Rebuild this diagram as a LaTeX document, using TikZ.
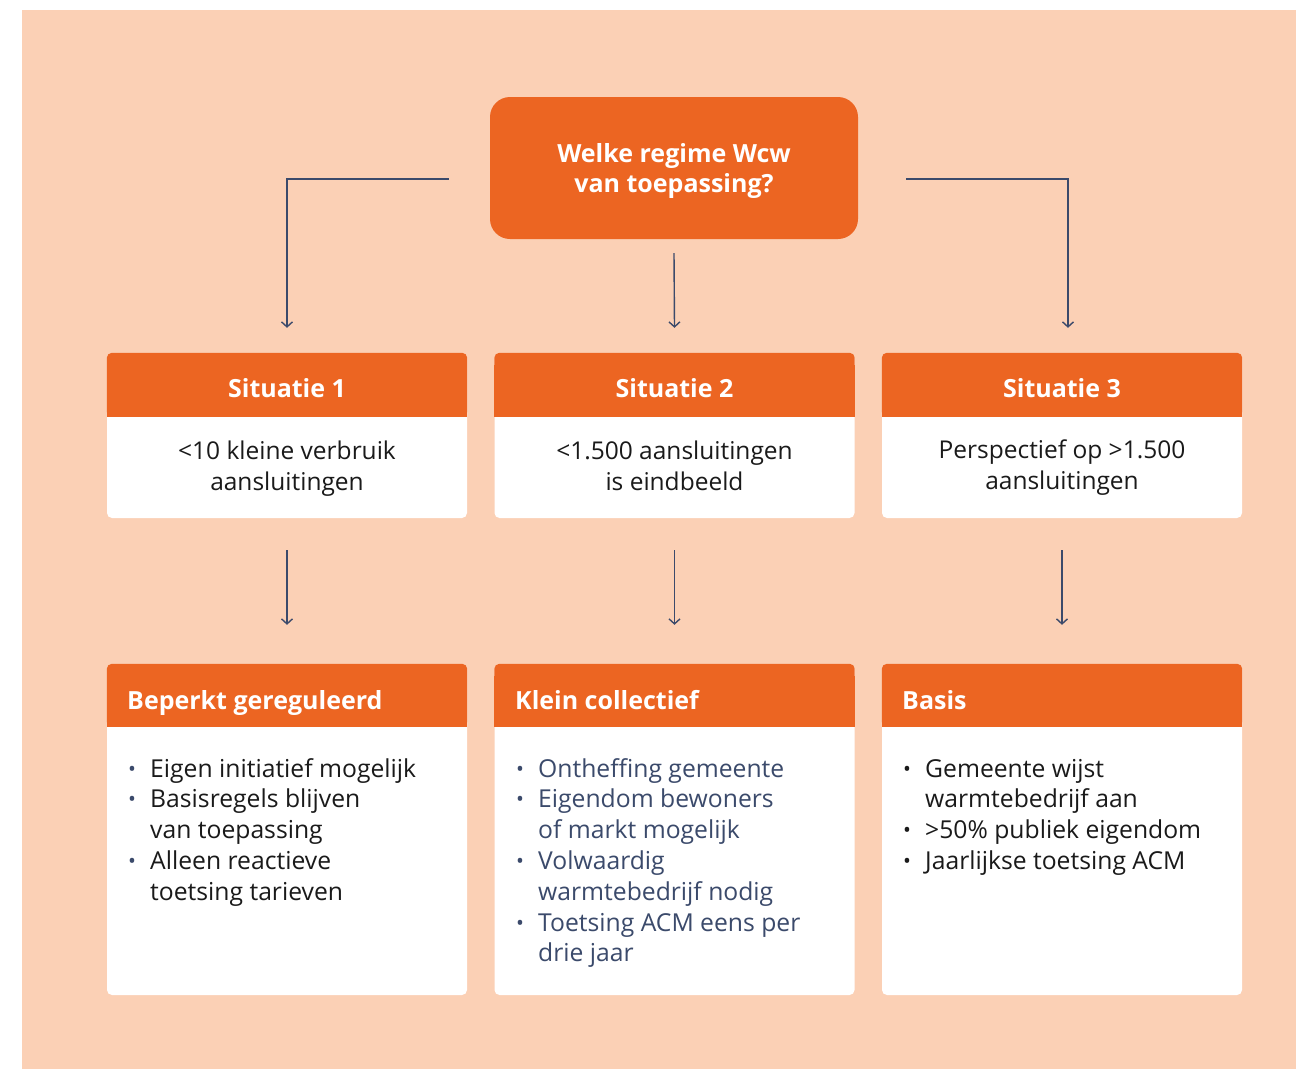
\documentclass[tikz,border=0pt]{standalone}
\usepackage{fontspec}
\setmainfont{Open Sans}
\usetikzlibrary{arrows.meta}
\definecolor{bg}{HTML}{FBD0B5}
\definecolor{org}{HTML}{EC6522}
\definecolor{navy}{HTML}{3B4A6B}
\definecolor{ink}{HTML}{1A1A1A}
\newcommand{\bul}[1]{\makebox[23pt][l]{\hspace{1pt}\color{#1}\raisebox{1pt}{\scalebox{0.85}{•}}}}
\tikzset{
  conn/.style={draw=navy, line width=1.4pt, -{Straight Barb[length=5pt,width=11pt,line width=1.4pt]}},
  topbox/.style={fill=org, rounded corners=20pt, minimum width=368pt, minimum height=142pt, inner sep=0pt},
  toptxt/.style={text=white, font=\bfseries\fontsize{25}{30.5}\selectfont, inner sep=0pt, anchor=base},
  sbox/.style={fill=white, rounded corners=5pt, minimum width=360pt, minimum height=165pt, inner sep=0pt},
  bbox/.style={fill=white, rounded corners=5pt, minimum width=360pt, minimum height=331pt, inner sep=0pt},
  headtxt/.style={text=white, font=\bfseries\fontsize{25}{30}\selectfont, inner sep=0pt},
  bodytxt/.style={text=ink, font=\fontsize{24.5}{31}\selectfont, inner sep=0pt, anchor=base},
  listtxt/.style={font=\fontsize{24.7}{30.8}\selectfont, inner sep=0pt, anchor=base west}
}
\begin{document}
\begin{tikzpicture}[x=1pt,y=-1pt]
\useasboundingbox (0,0) rectangle (1296,1069);
\fill[bg] (22,10) rectangle (1296,1069);

% top question
\node[topbox] (q) at (674,168) {};
\node[toptxt] (qt) at (674,162) {\begin{tabular}[t]{@{}c@{}}Welke regime Wcw\\van toepassing?\end{tabular}};

% situation boxes
\foreach \n/\x in {1/287,2/674.5,3/1062}{
  \node[sbox] (s\n) at (\x,435.5) {};
  \fill[org, rounded corners=5pt] (s\n.north west) rectangle ([yshift=-64pt]s\n.north east);
  \fill[org] ([yshift=-12pt]s\n.north west) rectangle ([yshift=-64pt]s\n.north east);
  \node[bbox] (r\n) at (\x,829.5) {};
  \fill[org, rounded corners=5pt] (r\n.north west) rectangle ([yshift=-63pt]r\n.north east);
  \fill[org] ([yshift=-12pt]r\n.north west) rectangle ([yshift=-63pt]r\n.north east);
}
\node[headtxt, anchor=base] (h1) at (287,397) {Situatie 1};
\node[headtxt, anchor=base] (h2) at (674.5,397) {Situatie 2};
\node[headtxt, anchor=base] (h3) at (1062,397) {Situatie 3};

\node[bodytxt] (t1) at (287,459) {\begin{tabular}[t]{@{}c@{}}<10 kleine verbruik\\aansluitingen\end{tabular}};
\node[bodytxt] (t2) at (674.5,459) {\begin{tabular}[t]{@{}c@{}}<1.500 aansluitingen\\is eindbeeld\end{tabular}};
\node[bodytxt] (t3) at (1062,458.5) {\begin{tabular}[t]{@{}c@{}}Perspectief op >1.500\\aansluitingen\end{tabular}};

\node[headtxt, anchor=base west] (g1) at (127,709) {Beperkt gereguleerd};
\node[headtxt, anchor=base west] (g2) at (515,709) {Klein collectief};
\node[headtxt, anchor=base west] (g3) at (902,709) {Basis};

\node[listtxt, text=ink] (l1) at (127,777) {\begin{tabular}[t]{@{}l@{}l@{}}
\bul{navy} & Eigen initiatief mogelijk\\
\bul{navy} & Basisregels blijven\\
 & van toepassing\\
\bul{navy} & Alleen reactieve\\
 & toetsing tarieven
\end{tabular}};

\node[listtxt, text=navy] (l2) at (515,777) {\begin{tabular}[t]{@{}l@{}l@{}}
\bul{navy} & Ontheffing gemeente\\
\bul{navy} & Eigendom bewoners\\
 & of markt mogelijk\\
\bul{navy} & Volwaardig\\
 & warmtebedrijf nodig\\
\bul{navy} & Toetsing ACM eens per\\
 & drie jaar
\end{tabular}};

\node[listtxt, text=ink] (l3) at (902,777) {\begin{tabular}[t]{@{}l@{}l@{}}
\bul{ink} & Gemeente wijst\\
 & warmtebedrijf aan\\
\bul{ink} & >50\% publiek eigendom\\
\bul{ink} & Jaarlijkse toetsing ACM
\end{tabular}};

% connectors
\draw[conn] ([xshift=-41pt,yshift=-11pt]q.west) -| ([yshift=25pt]s1.north);
\draw[conn] ([yshift=-14pt]q.south) -- ([yshift=25pt]s2.north);
\draw[conn] ([xshift=48pt,yshift=-11pt]q.east) -| ([xshift=6pt,yshift=25pt]s3.north);
\foreach \n in {1,2,3}{
  \draw[conn] ([yshift=-32pt]s\n.south) -- ([yshift=39pt]r\n.north);
}
\end{tikzpicture}
\end{document}
